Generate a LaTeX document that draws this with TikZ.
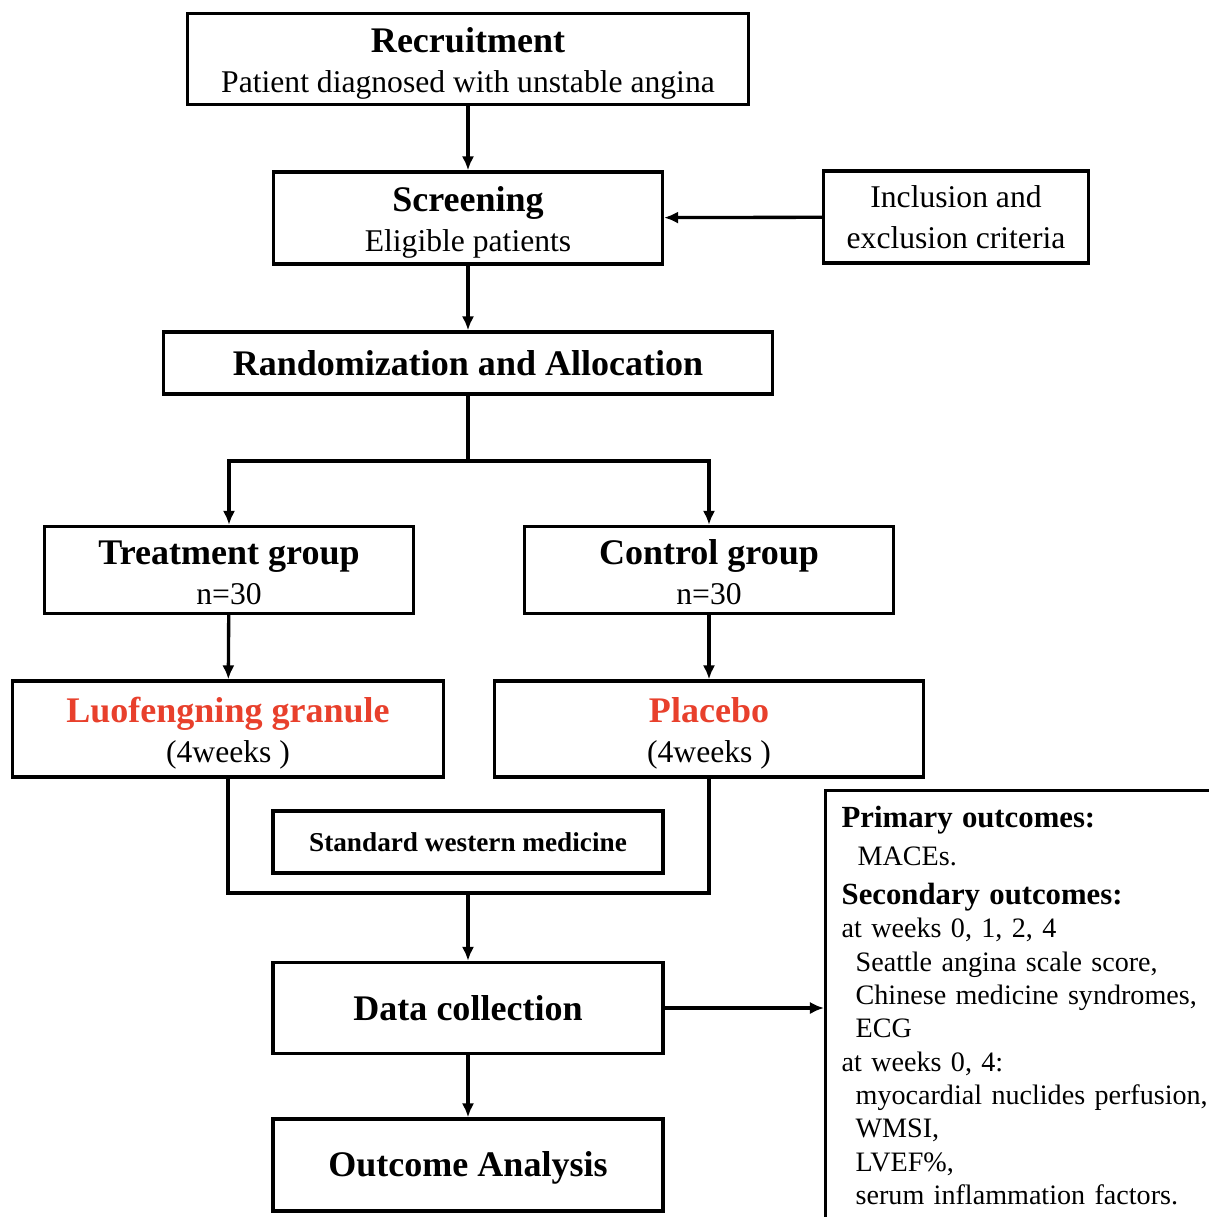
\documentclass[tikz,border=0pt]{standalone}
\usepackage{fontspec}
\setmainfont{Liberation Serif}
\usepackage{xcolor}
\usepackage{tikz}
\usetikzlibrary{arrows.meta}
\definecolor{drugred}{RGB}{232,64,44}

\begin{document}
\begin{tikzpicture}[x=0.02cm,y=-0.02cm,>={Latex[length=8pt,width=7pt]},line width=1.9pt,
    box/.style={draw,inner sep=0pt,align=center,
      font=\fontsize{18}{23}\selectfont},
    hd/.style={font=\bfseries\fontsize{20.5}{23}\selectfont}]
    \useasboundingbox (0,0) rectangle (1209,1217);
    \node[box,minimum width=11.22cm,minimum height=1.82cm] (rec) at (468,59)
      {\rule{0pt}{19.5pt}\textbf{\fontsize{20.5}{23}\selectfont Recruitment}\\
       Patient diagnosed with unstable angina};
    \node[box,minimum width=7.78cm,minimum height=1.84cm] (scr) at (468,218)
      {\rule{0pt}{19.5pt}\textbf{\fontsize{20.5}{23}\selectfont Screening}\\
       Eligible patients};
    \node[box,minimum width=5.3cm,minimum height=1.84cm] (inc) at (956,217)
      {Inclusion and\\exclusion criteria};
    \node[box,hd,minimum width=12.18cm,minimum height=1.24cm] (rand) at (468,363)
      {Randomization and Allocation};
    \node[box,minimum width=7.38cm,minimum height=1.74cm] (treat) at (229,570)
      {\rule{0pt}{17pt}\textbf{\fontsize{20.5}{23}\selectfont Treatment group}\\n=30};
    \node[box,minimum width=7.38cm,minimum height=1.74cm] (ctrl) at (709,570)
      {\rule{0pt}{17pt}\textbf{\fontsize{20.5}{23}\selectfont Control group}\\n=30};
    \node[box,minimum width=8.62cm,minimum height=1.92cm] (luo) at (228,729)
      {\rule{0pt}{19.5pt}\textbf{\fontsize{20.5}{23}\selectfont\color{drugred}Luofengning granule}\\
       (4weeks )};
    \node[box,minimum width=8.58cm,minimum height=1.92cm] (plac) at (709,729)
      {\rule{0pt}{19.5pt}\textbf{\fontsize{20.5}{23}\selectfont\color{drugred}Placebo}\\
       (4weeks )};
    \node[box,minimum width=7.8cm,minimum height=1.24cm,
      font=\bfseries\fontsize{15.5}{18}\selectfont] (swm) at (468,842)
      {Standard western medicine};
    \node[box,hd,minimum width=7.8cm,minimum height=1.82cm] (data) at (468,1008)
      {Data collection};
    \node[box,hd,minimum width=7.8cm,minimum height=1.84cm] (ana) at (468,1165)
      {\rule{0pt}{18pt}Outcome Analysis};
    \node[draw,anchor=north west,inner xsep=0.32cm,inner ysep=0.3cm,
      text width=8cm,align=left,font=\fontsize{16}{19}\selectfont]
      (outc) at (824,789)
      {\textbf{\fontsize{17.5}{19}\selectfont Primary outcomes:}\\[3pt]
       \hspace*{0.32cm}MACEs.\\[3pt]
       \textbf{\fontsize{17.5}{19}\selectfont Secondary outcomes:}\\
       at weeks 0, 1, 2, 4\\
       \hspace*{0.28cm}Seattle angina scale score,\\
       \hspace*{0.28cm}Chinese medicine syndromes,\\
       \hspace*{0.28cm}ECG\\
       at weeks 0, 4:\\
       \hspace*{0.28cm}myocardial nuclides perfusion,\\
       \hspace*{0.28cm}WMSI,\\
       \hspace*{0.28cm}LVEF\%,\\
       \hspace*{0.28cm}serum inflammation factors.};
    \coordinate (split) at (468,461);
    \coordinate (join) at (468,893);
    \draw[->] (rec) -- (scr);
    \draw[->] (inc) -- (scr);
    \draw[->] (scr) -- (rand);
    \draw (rand) -- (split);
    \draw[->] (split) -| (treat);
    \draw[->] (split) -| (ctrl);
    \draw[->] (treat) -- (luo);
    \draw[->] (ctrl) -- (plac);
    \draw (luo.south) |- (join) -| (plac.south);
    \draw[->] (join) -- (data);
    \draw[->] (data.east) -- (data.east -| outc.west);
    \draw[->] (data) -- (ana);
  \end{tikzpicture}
\end{document}
